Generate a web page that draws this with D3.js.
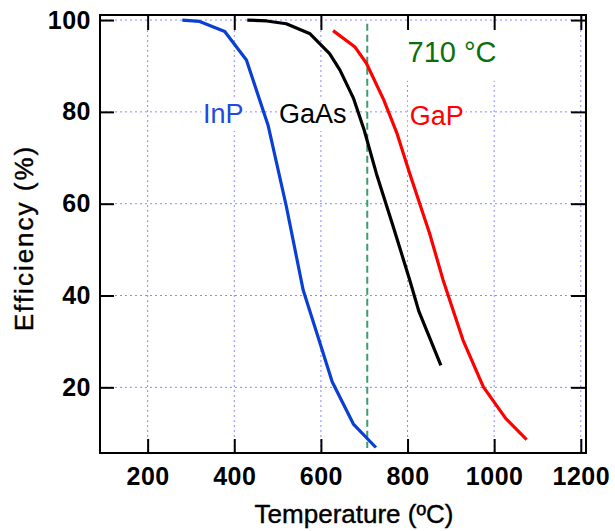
<!DOCTYPE html>
<html>
<head>
<meta charset="utf-8">
<script src="https://cdn.jsdelivr.net/npm/d3@7"></script>
<style>
  html, body { margin: 0; padding: 0; background: #fff; }
  svg { display: block; font-family: "Liberation Sans", Arial, sans-serif; }
</style>
</head>
<body>
<div id="chart"></div>
<script>
// Efficiency vs temperature for three III-V materials
const xTicks = [200, 400, 600, 800, 1000, 1200];
const yTicks = [20, 40, 60, 80, 100];

// [temperature °C, efficiency %]
const inpData = [[280, 100], [320, 99.7], [378, 97.5], [428, 91.3], [478, 77.1], [520, 59.5],
  [559, 41.2], [598, 29.6], [626, 21.2], [659, 15], [675, 12], [727, 6.9]];
const gaasData = [[430, 100], [475, 99.8], [520, 99.2], [575, 97], [620, 92.7], [644, 89.1],
  [675, 83], [700, 76], [728, 66.6], [767, 55], [805, 43.4], [826, 36.6], [877, 24.8]];
const gapData = [[628, 97.7], [678, 94.2], [705, 90.6], [745, 82.6], [775, 75.5], [805, 66.6],
  [851, 53.5], [882, 43.4], [928, 30.3], [975, 20.1], [1027, 13.2], [1075, 8.6]];

const series = [
  { name: "InP", data: inpData, color: "#0a3fd4" },
  { name: "GaAs", data: gaasData, color: "#000000" },
  { name: "GaP", data: gapData, color: "#ff0000" }
];

const markerTemp = 707;
const markerLabel = "710 °C";

const W = 615, H = 531;
const plot = { left: 100, right: 586, top: 15, bottom: 453 };

const x = d3.scaleLinear().domain([90, 1212]).range([plot.left, plot.right]);
const y = d3.scaleLinear().domain([5.7, 101.1]).range([plot.bottom, plot.top]);

const svg = d3.select("#chart").append("svg")
  .attr("width", W).attr("height", H);

// Dotted grid
const grid = svg.append("g")
  .attr("stroke", "#8a8aff")
  .attr("stroke-width", 1)
  .attr("stroke-dasharray", "2,3");
xTicks.forEach(t => {
  grid.append("line")
    .attr("x1", x(t)).attr("x2", x(t))
    .attr("y1", plot.top).attr("y2", plot.bottom);
});
yTicks.forEach(t => {
  grid.append("line")
    .attr("x1", plot.left).attr("x2", plot.right)
    .attr("y1", y(t)).attr("y2", y(t));
});

// Labels with white boxes behind them
const labels = [
  { text: "InP", t: 328, e: 77.6, color: "#2349e0", size: 27, pad: [2, 2, 2, 2] },
  { text: "GaAs", t: 503, e: 77.6, color: "#000", size: 27, pad: [2, 2, 2, 2] },
  { text: "GaP", t: 805, e: 77.2, color: "#ff0000", size: 27, pad: [2, 2, 2, 2] },
  { text: markerLabel, t: 800, e: 90.9, color: "#0c6e0c", size: 29, pad: [2, 8, 9, 13] }
];
const labelG = svg.append("g");
labels.forEach(l => {
  const g = labelG.append("g");
  const bg = g.append("rect").attr("fill", "#fff");
  const txt = g.append("text")
    .attr("x", x(l.t)).attr("y", y(l.e))
    .attr("font-size", l.size + "px")
    .attr("fill", l.color)
    .text(l.text);
  const bb = txt.node().getBBox();
  // pad: left, right, top, bottom
  bg.attr("x", bb.x - l.pad[0]).attr("y", bb.y - l.pad[2])
    .attr("width", bb.width + l.pad[0] + l.pad[1])
    .attr("height", bb.height + l.pad[2] + l.pad[3]);
});

// Marker line
svg.append("line")
  .attr("x1", x(markerTemp)).attr("x2", x(markerTemp))
  .attr("y1", y(99.2)).attr("y2", y(6.8))
  .attr("stroke", "#3a9e6e")
  .attr("stroke-width", 2)
  .attr("stroke-dasharray", "7,4");

// Curves
const line = d3.line().x(d => x(d[0])).y(d => y(d[1]));
series.forEach(s => {
  svg.append("path")
    .datum(s.data)
    .attr("fill", "none")
    .attr("stroke", s.color)
    .attr("stroke-width", 3.2)
    .attr("stroke-linejoin", "round")
    .attr("d", line);
});

// Axes: ticks point inward on all four sides
const styleAxis = g => {
  g.select(".domain").remove();
  g.selectAll(".tick line").attr("stroke", "#000").attr("stroke-width", 2);
};
const styleLabels = g => g.selectAll("text")
  .attr("font-size", "25px").attr("font-weight", "bold")
  .attr("font-family", "Liberation Sans, Arial, sans-serif")
  .attr("letter-spacing", "0.5px").attr("fill", "#000");

svg.append("g")
  .attr("transform", `translate(0,${plot.bottom})`)
  .call(d3.axisBottom(x).tickValues(xTicks).tickFormat(d3.format("d"))
    .tickSizeInner(-14).tickSizeOuter(0).tickPadding(14))
  .call(styleAxis)
  .call(styleLabels);

svg.append("g")
  .attr("transform", `translate(${plot.left},0)`)
  .call(d3.axisLeft(y).tickValues(yTicks).tickFormat(d3.format("d"))
    .tickSizeInner(-14).tickSizeOuter(0).tickPadding(9))
  .call(styleAxis)
  .call(styleLabels);

svg.append("g")
  .attr("transform", `translate(0,${plot.top})`)
  .call(d3.axisTop(x).tickValues(xTicks).tickSizeInner(-15).tickSizeOuter(0).tickFormat(""))
  .call(styleAxis);

svg.append("g")
  .attr("transform", `translate(${plot.right},0)`)
  .call(d3.axisRight(y).tickValues(yTicks).tickSizeInner(-15).tickSizeOuter(0).tickFormat(""))
  .call(styleAxis);

// Frame
svg.append("rect")
  .attr("x", plot.left).attr("y", plot.top)
  .attr("width", plot.right - plot.left).attr("height", plot.bottom - plot.top)
  .attr("fill", "none").attr("stroke", "#000").attr("stroke-width", 2);

// Axis titles
svg.append("text")
  .attr("x", 354).attr("y", 523)
  .attr("text-anchor", "middle")
  .attr("font-size", "26px")
  .attr("stroke", "#000").attr("stroke-width", 0.4)
  .text("Temperature (ºC)");

svg.append("text")
  .attr("transform", "translate(33,238) rotate(-90)")
  .attr("text-anchor", "middle")
  .attr("font-size", "26px")
  .attr("letter-spacing", "2px")
  .attr("stroke", "#000").attr("stroke-width", 0.4)
  .text("Efficiency (%)");
</script>
</body>
</html>
